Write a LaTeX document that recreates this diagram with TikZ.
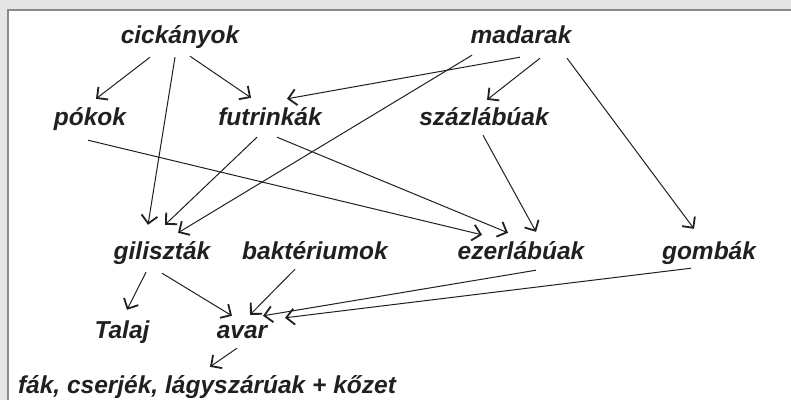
\documentclass[tikz,border=0pt]{standalone}
\usepackage{fontspec}
\setmainfont{Liberation Sans}
\usepackage{xcolor}
\definecolor{frameGray}{RGB}{229,229,229}
\definecolor{frameLine}{RGB}{138,138,138}
\definecolor{inkBlack}{RGB}{35,31,32}
\usetikzlibrary{arrows.meta, positioning}
\tikzstyle{organism} = [inner sep=0pt, text height=17bp, text depth=5bp, text=inkBlack, font=\fontsize{24.5bp}{28bp}\selectfont\bfseries\itshape]
\tikzstyle{feeds} = [draw=inkBlack, line width=1bp]

\begin{document}
\begin{tikzpicture}[x=1bp, y=1bp, >={Straight Barb[length=8bp,width=16bp,line width=1.8bp]}]
        % frame of the figure
        \useasboundingbox (0,0) rectangle (791,-400);
        \fill [frameGray] (0,0) rectangle (791,-400);
        \fill [white] (8,-10) rectangle (791,-400);
        \draw [frameLine, line width=2bp] (8,-400) -- (8,-10) -- (791,-10);

        % We start by placing the organisms, row by row
        \node [organism] (cickanyok) at (180,-37) {cickányok};
        \node [organism, right of=cickanyok, node distance=341bp] (madarak) {madarak};

        \node [organism] (pokok) at (90,-119) {pókok};
        \node [organism, right of=pokok, node distance=180bp] (futrinkak) {futrinkák};
        \node [organism, right of=futrinkak, node distance=214bp] (szazlabuak) {százlábúak};

        \node [organism] (gilisztak) at (162,-253) {giliszták};
        \node [organism, right of=gilisztak, node distance=153bp] (bakteriumok) {baktériumok};
        \node [organism, right of=bakteriumok, node distance=206bp] (ezerlabuak) {ezerlábúak};
        \node [organism, right of=ezerlabuak, node distance=188bp] (gombak) {gombák};

        \node [organism] (talaj) at (122,-332) {Talaj};
        \node [organism, right of=talaj, node distance=120bp] (avar) {avar};

        \node [organism] (noveny) at (207,-387) {fák, cserjék, lágyszárúak + kőzet};

        % Once the nodes are placed, connecting them is easy.
        \draw [feeds,->] ([shift={(-30,-9)}]cickanyok.south) -- ([shift={(6,9)}]pokok.north);
        \draw [feeds,->] ([shift={(-5,-9)}]cickanyok.south) -- ([shift={(-14,17)}]gilisztak.north);
        \draw [feeds,->] ([shift={(10,-8)}]cickanyok.south) -- ([shift={(-19,10)}]futrinkak.north);
        \draw [feeds,->] ([shift={(-1,-9)}]madarak.south) -- ([shift={(17,9)}]futrinkak.north);
        \draw [feeds,->] ([shift={(-49,-7)}]madarak.south) -- ([shift={(16,9)}]gilisztak.north);
        \draw [feeds,->] ([shift={(19,-10)}]madarak.south) -- ([shift={(3,8)}]szazlabuak.north);
        \draw [feeds,->] ([shift={(46,-10)}]madarak.south) -- ([shift={(-15,13)}]gombak.north);
        \draw [feeds,->] ([shift={(-2,-10)}]pokok.south) -- ([shift={(-39,7)}]ezerlabuak.north);
        \draw [feeds,->] ([shift={(-13,-7)}]futrinkak.south) -- ([shift={(3,17)}]gilisztak.north);
        \draw [feeds,->] ([shift={(7,-7)}]futrinkak.south) -- ([shift={(-13,9)}]ezerlabuak.north);
        \draw [feeds,->] ([shift={(-1,-5)}]szazlabuak.south) -- ([shift={(15,10)}]ezerlabuak.north);
        \draw [feeds,->] ([shift={(-16,-8)}]gilisztak.south) -- ([shift={(5,11)}]talaj.north);
        \draw [feeds,->] ([shift={(0,-9)}]gilisztak.south) -- ([shift={(-10,5)}]avar.north);
        \draw [feeds,->] ([shift={(-20,-5)}]bakteriumok.south) -- ([shift={(8,6)}]avar.north);
        \draw [feeds,->] ([shift={(15,-6)}]ezerlabuak.south) -- ([shift={(21,5)}]avar.north);
        \draw [feeds,->] ([shift={(-18,-4)}]gombak.south) -- ([shift={(43,3)}]avar.north);
        \draw [feeds,->] ([shift={(-5,-5)}]avar.south) -- ([shift={(3,9)}]noveny.north);
    \end{tikzpicture}
\end{document}
